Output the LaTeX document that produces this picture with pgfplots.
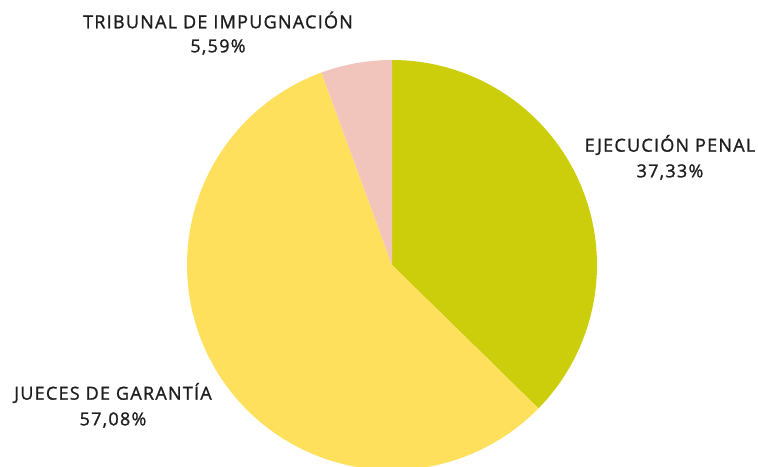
\documentclass[border=0pt]{standalone}
\usepackage{fontspec}
\setmainfont{Open Sans}
\newfontfamily\lblfont[FakeBold=1.2, LetterSpace=7]{Open Sans}
\usepackage{pgfplots}
\pgfplotsset{compat=1.18}
\definecolor{cEjec}{RGB}{204,206,12}
\definecolor{cJuec}{RGB}{255,224,93}
\definecolor{cTrib}{RGB}{241,196,188}
\definecolor{txt}{RGB}{30,30,30}

% shares in percent, clockwise from 12 o'clock
\def\pEjec{37.33}
\def\pJuec{57.08}
\def\pTrib{5.59}
\pgfmathsetmacro{\aA}{90}
\pgfmathsetmacro{\aB}{90-3.6*\pEjec}
\pgfmathsetmacro{\aC}{\aB-3.6*\pJuec}
\pgfmathsetmacro{\aD}{\aC-3.6*\pTrib}

\tikzset{lbl/.style={font=\lblfont\fontsize{13.5}{15}\selectfont, text=txt, inner sep=0pt}}

\begin{document}
\begin{tikzpicture}
\begin{axis}[
    x=0.75pt, y=0.75pt,
    xmin=0, xmax=758, ymin=0, ymax=467,
    hide axis, clip=true,
  ]
  % centre (392,202) in picture pixels, radius 205
  \addplot[fill=cEjec, draw=none, domain=\aB:\aA, samples=80]
    ({392+205*cos(x)}, {202+205*sin(x)}) -- (axis cs:392,202) -- cycle;
  \addplot[fill=cJuec, draw=none, domain=\aC:\aB, samples=120]
    ({392+205*cos(x)}, {202+205*sin(x)}) -- (axis cs:392,202) -- cycle;
  \addplot[fill=cTrib, draw=none, domain=\aD:\aC, samples=20]
    ({392+205*cos(x)}, {202+205*sin(x)}) -- (axis cs:392,202) -- cycle;

  \node[lbl] at (axis cs:218,447) {TRIBUNAL DE IMPUGNACIÓN};
  \node[lbl] at (axis cs:218,420) {5,59\%};
  \node[lbl] at (axis cs:670,322) {EJECUCIÓN PENAL};
  \node[lbl] at (axis cs:670,295) {37,33\%};
  \node[lbl] at (axis cs:113,74) {JUECES DE GARANTÍA};
  \node[lbl] at (axis cs:113,47) {57,08\%};

  \coordinate (ll) at (axis cs:0,0);
  \coordinate (ur) at (axis cs:758,467);
\end{axis}
\pgfresetboundingbox
\path[use as bounding box] (ll) rectangle (ur);
\end{tikzpicture}
\end{document}
